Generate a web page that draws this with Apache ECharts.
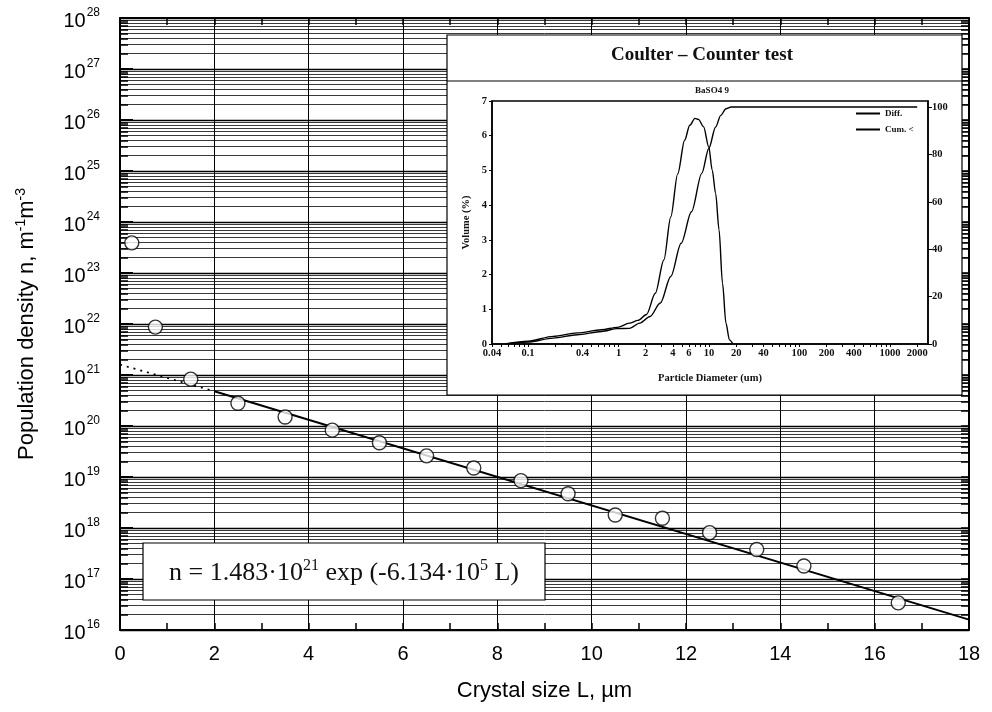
<!DOCTYPE html>
<html><head><meta charset="utf-8">
<script src="https://cdn.jsdelivr.net/npm/echarts@6/dist/echarts.min.js"></script>
<style>html,body{margin:0;padding:0;background:#fff}#c{width:992px;height:712px}</style>
</head><body><div id="c"></div>
<script>
// ---- Main chart data ----
const crystalSize = [0.25, 0.75, 1.5, 2.5, 3.5, 4.5, 5.5, 6.5, 7.5, 8.5, 9.5, 10.5, 11.5, 12.5, 13.5, 14.5, 16.5];
const popDensity = [3.9e23, 8.7e21, 8.3e20, 2.8e20, 1.5e20, 8.3e19, 4.7e19, 2.6e19, 1.5e19, 8.5e18, 4.7e18, 1.8e18, 1.55e18, 8.1e17, 3.8e17, 1.8e17, 3.4e16];
const fitDottedL = [0, 2];
const fitDottedN = [1.6e21, 4.8e20];
const fitSolidL = [2, 18];
const fitSolidN = [4.8e20, 1.6e16];
const yDecades = [16, 17, 18, 19, 20, 21, 22, 23, 24, 25, 26, 27, 28];

// ---- Inset (Coulter counter) data ----
const diffD = [0.056, 0.1, 0.19, 0.35, 0.65, 0.97, 1.32, 1.64, 2.04, 2.55, 3.17, 3.78, 4.51, 5.38, 6.13, 6.99, 7.64, 8.71, 9.94, 10.85, 11.84, 12.9, 14.1, 15.4, 16.8, 18.4];
const diffV = [0, 0.08, 0.22, 0.32, 0.41, 0.48, 0.6, 0.68, 0.85, 1.46, 2.42, 3.66, 4.9, 5.87, 6.3, 6.5, 6.47, 6.26, 5.68, 5.01, 4.34, 3.3, 1.75, 0.6, 0.12, 0];
const cumD = [0.056, 0.1, 0.19, 0.35, 0.65, 0.97, 1.32, 1.72, 2.23, 2.9, 3.78, 4.92, 6.4, 8.32, 9.94, 11.84, 13.5, 15.4, 17.6, 21.9, 2000];
const cumV = [0, 0.8, 2.5, 3.9, 5.3, 6.5, 6.6, 8.8, 11.6, 17.3, 28.5, 42.5, 55.8, 72, 82.5, 91.6, 96.5, 99.3, 100, 100, 100];
const insetXLabels = [0.04, 0.1, 0.4, 1, 2, 4, 6, 10, 20, 40, 100, 200, 400, 1000, 2000];
const insetRightLabels = [0, 20, 40, 60, 80, 100];

// ---- build helpers ----
const SANS = "'Liberation Sans', Arial, sans-serif";
const SERIF = "'Liberation Serif', 'Times New Roman', serif";
const lg = Math.log10;

const yMinor = [];      // k x 10^n, k = 2..9
const yAll = [];        // k = 1..9 plus top
yDecades.slice(0, -1).forEach(n => {
  for (let k = 1; k <= 9; k++) {
    yAll.push(n + lg(k));
    if (k > 1) yMinor.push(n + lg(k));
  }
});
yAll.push(28);

const insetXMin = lg(0.04), insetXMax = 3.42;
const insetXTicks = [];
for (let e = -2; e <= 3; e++) for (let k = 1; k <= 9; k++) {
  const v = k * Math.pow(10, e);
  if (lg(v) >= insetXMin - 1e-9 && lg(v) <= insetXMax) insetXTicks.push(lg(v));
}

const pts = crystalSize.map((L, i) => [L, lg(popDensity[i])]);
const dotted = fitDottedL.map((L, i) => [L, lg(fitDottedN[i])]);
const solid = fitSolidL.map((L, i) => [L, lg(fitSolidN[i])]);
const diffData = diffD.map((d, i) => [lg(d), diffV[i]]);
const cumData = cumD.map((d, i) => [lg(d), cumV[i]]);

const chart = echarts.init(document.getElementById('c'), null, {renderer: 'canvas'});
const Z2 = 2;
const insetTxt = {fontFamily: SERIF, fontWeight: 'bold', fontSize: 10.5, color: '#111'};

chart.setOption({
  animation: false,
  backgroundColor: '#fff',
  grid: [
    {left: 120, top: 18, right: 23, bottom: 82, show: false},
    {left: 492, top: 101, width: 436, height: 243, show: true, backgroundColor: '#fff',
     borderColor: '#000', borderWidth: 1.5, zlevel: Z2}
  ],
  xAxis: [
    {type: 'value', gridIndex: 0, min: 0, max: 18, interval: 2, position: 'bottom',
     axisLine: {show: true, onZero: false, lineStyle: {color: '#000', width: 2}},
     axisTick: {show: true, inside: true, length: 7, lineStyle: {color: '#000', width: 1.5}},
     minorTick: {show: true, splitNumber: 2, length: 7, lineStyle: {color: '#000', width: 1.5}},
     axisLabel: {color: '#000', fontFamily: SANS, fontSize: 20, margin: 14},
     splitLine: {show: true, lineStyle: {color: '#000', width: 1}},
     name: 'Crystal size L, \u00b5m', nameLocation: 'middle', nameGap: 50,
     nameTextStyle: {color: '#000', fontFamily: SANS, fontSize: 22}},
    {type: 'value', gridIndex: 0, min: 0, max: 18, interval: 2, position: 'top',
     axisLine: {show: true, onZero: false, lineStyle: {color: '#000', width: 2}},
     axisTick: {show: true, inside: true, length: 7, lineStyle: {color: '#000', width: 1.5}},
     minorTick: {show: true, splitNumber: 2, length: 7, lineStyle: {color: '#000', width: 1.5}},
     axisLabel: {show: false}, splitLine: {show: false}},
    {type: 'value', gridIndex: 1, min: insetXMin, max: insetXMax, zlevel: Z2,
     axisLine: {show: true, onZero: false, lineStyle: {color: '#000', width: 1.5}},
     axisTick: {show: true, length: 3, customValues: insetXTicks, lineStyle: {color: '#000', width: 1}},
     axisLabel: {show: true, customValues: insetXLabels.map(lg), margin: 4, ...insetTxt,
       formatter: v => String(parseFloat(Math.pow(10, v).toPrecision(3)))},
     splitLine: {show: false},
     name: 'Particle Diameter (um)', nameLocation: 'middle', nameGap: 29, nameTextStyle: insetTxt}
  ],
  yAxis: [
    {type: 'value', gridIndex: 0, min: 16, max: 28, interval: 1, position: 'left',
     axisLine: {show: true, onZero: false, lineStyle: {color: '#000', width: 2}},
     axisTick: {show: true, inside: true, length: 8, customValues: yMinor, lineStyle: {color: '#000', width: 1.5}},
     axisLabel: {color: '#000', margin: 20, formatter: v => '{b|10}{s|' + v + '}',
       rich: {b: {fontFamily: SANS, fontSize: 20, color: '#000', verticalAlign: 'bottom', padding: [6, 0, 0, 0]},
              s: {fontFamily: SANS, fontSize: 12, color: '#000', verticalAlign: 'bottom', padding: [0, 0, 12, 1]}}},
     splitLine: {show: true, lineStyle: {color: '#3a3a3a', width: 1}},
     name: 'Population density n, m{s|-1}m{s|-3}', nameLocation: 'middle', nameGap: 80, nameRotate: 90,
     nameTextStyle: {color: '#000', fontFamily: SANS, fontSize: 22,
       rich: {s: {fontFamily: SANS, fontSize: 14, color: '#000', verticalAlign: 'bottom', padding: [0, 0, 12, 0]}}}},
    {type: 'value', gridIndex: 0, min: 16, max: 28, interval: 1, position: 'right',
     axisLine: {show: true, onZero: false, lineStyle: {color: '#000', width: 2}},
     axisTick: {show: true, inside: true, length: 8, customValues: yAll, lineStyle: {color: '#000', width: 1.5}},
     axisLabel: {show: false}, splitLine: {show: false}},
    {type: 'value', gridIndex: 0, min: 16, max: 28, interval: 1, position: 'left',
     axisLine: {show: false},
     axisTick: {show: true, inside: true, length: 13, lineStyle: {color: '#000', width: 2}},
     axisLabel: {show: false},
     splitLine: {show: true, lineStyle: {color: '#000', width: 1.4}}},
    {type: 'value', gridIndex: 1, min: 0, max: 7, interval: 1, position: 'left', zlevel: Z2,
     axisLine: {show: true, onZero: false, lineStyle: {color: '#000', width: 1.5}},
     axisTick: {show: true, length: 3, lineStyle: {color: '#000', width: 1}},
     axisLabel: {margin: 5, ...insetTxt}, splitLine: {show: false},
     name: 'Volume (%)', nameLocation: 'middle', nameGap: 20, nameRotate: 90, nameTextStyle: insetTxt},
    {type: 'value', gridIndex: 1, min: 0, max: 102.55, position: 'right', zlevel: Z2,
     axisLine: {show: true, onZero: false, lineStyle: {color: '#000', width: 1.5}},
     axisTick: {show: true, length: 4, customValues: insetRightLabels, lineStyle: {color: '#000', width: 1}},
     axisLabel: {margin: 4, customValues: insetRightLabels, ...insetTxt}, splitLine: {show: false}}
  ],
  legend: {zlevel: Z2, orient: 'vertical', left: 851, top: 104, itemWidth: 24, itemHeight: 2, itemGap: 7,
    icon: 'rect', data: ['Diff.', 'Cum. <'],
    textStyle: {fontFamily: SERIF, fontWeight: 'bold', fontSize: 9, color: '#111', padding: [0, 0, 0, 0]}},
  graphic: [
    {type: 'rect', zlevel: 1, shape: {x: 447, y: 35, width: 515, height: 360},
     style: {fill: '#fff', stroke: '#000', lineWidth: 1.2}},
    {type: 'line', zlevel: Z2, shape: {x1: 447, y1: 81, x2: 962, y2: 81}, style: {stroke: '#000', lineWidth: 1}},
    {type: 'text', zlevel: Z2, x: 702, y: 55,
     style: {text: 'Coulter \u2013 Counter test', fontFamily: SERIF, fontWeight: 'bold', fontSize: 19,
       fill: '#111', align: 'center', verticalAlign: 'middle', textAlign: 'center', textVerticalAlign: 'middle'}},
    {type: 'text', zlevel: Z2, x: 712, y: 91,
     style: {text: 'BaSO4 9', fontFamily: SERIF, fontWeight: 'bold', fontSize: 9,
       fill: '#111', align: 'center', verticalAlign: 'middle', textAlign: 'center', textVerticalAlign: 'middle'}},
    {type: 'rect', zlevel: 1, shape: {x: 143, y: 543, width: 402, height: 57},
     style: {fill: '#fff', stroke: '#000', lineWidth: 1.2}},
    {type: 'text', zlevel: 1, x: 344, y: 572,
     style: {text: '{a|n = 1.483\u00b710}{s|21}{a| exp (-6.134\u00b710}{s|5}{a| L)}',
       align: 'center', verticalAlign: 'middle', textAlign: 'center', textVerticalAlign: 'middle',
       rich: {a: {fontFamily: SERIF, fontSize: 26, fill: '#111', color: '#111', verticalAlign: 'bottom'},
              s: {fontFamily: SERIF, fontSize: 16, fill: '#111', color: '#111', verticalAlign: 'bottom', padding: [0, 0, 12, 0]}}}}
  ],
  series: [
    {type: 'line', name: 'fit-dotted', xAxisIndex: 0, yAxisIndex: 0, data: dotted, showSymbol: false,
     lineStyle: {color: '#000', width: 1.8, type: [2, 5]}, z: 3},
    {type: 'line', name: 'fit', xAxisIndex: 0, yAxisIndex: 0, data: solid, showSymbol: false,
     lineStyle: {color: '#000', width: 2}, z: 3},
    {type: 'scatter', name: 'data', xAxisIndex: 0, yAxisIndex: 0, data: pts, symbol: 'circle', symbolSize: 14,
     itemStyle: {color: '#fff', borderColor: '#000', borderWidth: 1.4}, z: 4},
    {type: 'line', name: 'Diff.', xAxisIndex: 2, yAxisIndex: 3, data: diffData, showSymbol: false, zlevel: Z2,
     smooth: 0.3, smoothMonotone: 'x', lineStyle: {color: '#000', width: 1.4}, itemStyle: {color: '#000'}},
    {type: 'line', name: 'Cum. <', xAxisIndex: 2, yAxisIndex: 4, data: cumData, showSymbol: false, zlevel: Z2,
     smooth: 0.3, smoothMonotone: 'x', lineStyle: {color: '#000', width: 1.4}, itemStyle: {color: '#000'}}
  ]
});
</script></body></html>
